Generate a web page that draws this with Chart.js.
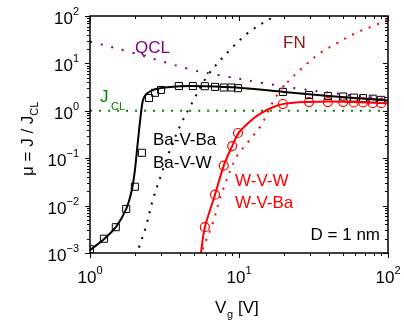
<!DOCTYPE html>
<html>
<head>
<meta charset="utf-8">
<script src="https://cdn.jsdelivr.net/npm/chart.js@4.4.0/dist/chart.umd.min.js"></script>
<style>
  html, body { margin: 0; padding: 0; background: #fff; }
  #wrap { width: 404px; height: 325px; position: relative; }
</style>
</head>
<body>
<div id="wrap"><canvas id="graph"></canvas></div>
<script>
// values: [Vg, mu]
const baVBaPts = [[1,1.2e-3],[1.24,2e-3],[1.49,3.5e-3],[1.75,8.5e-3],[2.0,0.025],[2.23,0.13],[2.49,1.86],[2.73,2.4],[3.0,2.75],[3.95,3.33],[4.9,3.33],[5.9,3.3],[6.9,3.2],[7.9,3.1],[8.9,3.1],[9.85,3.0],[19.7,2.5],[29.5,2.15],[39.5,2.05],[50,2.0],[59,1.9],[68,1.85],[79,1.8],[90,1.7]];
const baVBaFit = [[1,1.15e-3],[1.25,2e-3],[1.5,3.6e-3],[1.75,8.5e-3],[1.9,0.02],[2.0,0.055],[2.1,0.24],[2.2,0.9],[2.27,1.7],[2.4,2.3],[2.7,2.8],[3.2,3.1],[4,3.3],[6,3.28],[10,3.05],[20,2.5],[40,2.05],[100,1.65]];
const baVW = [[2.13,1.3e-3],[2.38,3.7e-3],[2.65,0.0137],[3.04,0.05],[3.34,0.118],[4.0,0.46],[4.84,1.46],[6.2,5.7],[8.8,20],[11.5,44],[15.2,78],[17.5,100]];
const wVWPts = [[5.9,3.5e-3],[6.9,0.017],[7.9,0.07],[9.0,0.18],[9.85,0.34],[19.7,1.39],[29.5,1.53],[39.5,1.53],[50,1.53],[59,1.5],[68,1.5],[79,1.45],[90,1.45]];
const wVWFit = [[5.55,1e-3],[5.9,3.5e-3],[6.9,0.017],[7.9,0.07],[9,0.18],[10,0.35],[12,0.62],[14,0.88],[17,1.2],[20,1.4],[25,1.52],[35,1.56],[50,1.55],[100,1.45]];
const wVBa = [[5.7,1.2e-3],[6.7,4.5e-3],[7.6,0.017],[9.6,0.105],[11.5,0.22],[14.1,0.5],[16.6,1.39],[19.8,3.2],[26.5,7.9],[35,16.6],[46,27],[61,44],[80,62],[100,85]];
const qcl = [[1,29],[1.86,17.4],[4.84,7.3],[7.2,5.7],[14.5,3.85],[25.7,2.9],[55,2.15],[100,1.75]];
const jcl = [[1,1],[100,1]];
const xDecades = [0, 1, 2];
const yDecades = [-3, -2, -1, 0, 1, 2];

const FONT = 'Arial, "Liberation Sans", sans-serif';
const toXY = a => a.map(p => ({x: p[0], y: p[1]}));

function dotted(data, color, gap) {
  return { data: toXY(data), borderColor: color, borderWidth: 2, borderDash: [2, gap],
    pointRadius: 0, fill: false, tension: 0.35 };
}

const axesPlugin = {
  id: 'axesPlugin',
  afterDraw(chart) {
    const ctx = chart.ctx, a = chart.chartArea;
    const xs = chart.scales.x, ys = chart.scales.y;
    ctx.save();
    ctx.strokeStyle = '#000';
    ctx.lineWidth = 1.5;
    ctx.strokeRect(a.left, a.top, a.right - a.left, a.bottom - a.top);
    ctx.lineWidth = 1;
    ctx.beginPath();
    // x ticks
    for (let d = 0; d < 2; d++) {
      for (let m = 1; m <= 10; m++) {
        const px = Math.round(xs.getPixelForValue(m * Math.pow(10, d))) + 0.5;
        const len = (m === 1 || m === 10) ? 5 : 3;
        ctx.moveTo(px, a.bottom); ctx.lineTo(px, a.bottom + len);
        ctx.moveTo(px, a.top); ctx.lineTo(px, a.top + len);
      }
    }
    // y ticks
    for (let d = -3; d < 2; d++) {
      for (let m = 1; m <= 10; m++) {
        const py = Math.round(ys.getPixelForValue(m * Math.pow(10, d))) + 0.5;
        const len = (m === 1 || m === 10) ? 5 : 3;
        ctx.moveTo(a.left, py); ctx.lineTo(a.left - len, py);
        ctx.moveTo(a.right, py); ctx.lineTo(a.right - len, py);
      }
    }
    ctx.stroke();

    ctx.fillStyle = '#000';
    ctx.textBaseline = 'alphabetic';
    // y tick labels: 10^n, right aligned
    yDecades.forEach(n => {
      const py = ys.getPixelForValue(Math.pow(10, n));
      ctx.font = '11px ' + FONT;
      const sup = String(n).replace('-', '\u2212');
      const sw = ctx.measureText(sup).width;
      ctx.textAlign = 'left';
      const right = 79;
      ctx.fillText(sup, right - sw, py - 1);
      ctx.font = '17px ' + FONT;
      const bw = ctx.measureText('10').width;
      ctx.fillText('10', right - sw - bw, py + 8);
    });
    // x tick labels
    xDecades.forEach(n => {
      const px = xs.getPixelForValue(Math.pow(10, n));
      ctx.font = '17px ' + FONT;
      const bw = ctx.measureText('10').width;
      ctx.font = '11px ' + FONT;
      const sw = ctx.measureText(String(n)).width;
      const left = px - (bw + sw) / 2;
      ctx.textAlign = 'left';
      ctx.fillText(String(n), left + bw, 274);
      ctx.font = '17px ' + FONT;
      ctx.fillText('10', left, 283);
    });

    // x title: V_g [V]
    ctx.font = '17px ' + FONT;
    ctx.fillText('V', 215, 313);
    ctx.font = '11px ' + FONT;
    ctx.fillText('g', 227, 318);
    ctx.font = '17px ' + FONT;
    ctx.fillText('[V]', 238, 313);

    // y title: mu = J / J_CL (rotated)
    ctx.save();
    ctx.translate(33, 176);
    ctx.rotate(-Math.PI / 2);
    ctx.font = '17px ' + FONT;
    const main = '\u03bc = J / J';
    ctx.fillText(main, 0, 0);
    const mw = ctx.measureText(main).width;
    ctx.font = '11px ' + FONT;
    ctx.fillText('CL', mw, 5);
    ctx.restore();

    // annotations
    ctx.font = '17px ' + FONT;
    ctx.fillStyle = '#800080';
    ctx.fillText('QCL', 135, 53);
    ctx.fillStyle = '#8b1a1a';
    ctx.fillText('FN', 283, 48);
    ctx.fillStyle = '#008000';
    ctx.fillText('J', 100, 102);
    ctx.font = '11px ' + FONT;
    ctx.fillText('CL', 111, 110);
    ctx.font = '17px ' + FONT;
    ctx.fillStyle = '#000';
    ctx.fillText('Ba-V-Ba', 153, 145);
    ctx.fillText('Ba-V-W', 153, 168);
    ctx.fillStyle = '#ff0000';
    ctx.fillText('W-V-W', 235, 186);
    ctx.fillText('W-V-Ba', 235, 208);
    ctx.fillStyle = '#000';
    ctx.textAlign = 'right';
    ctx.fillText('D = 1 nm', 380, 240);
    ctx.restore();
  }
};

new Chart(document.getElementById('graph'), {
  type: 'line',
  data: {
    datasets: [
      dotted(jcl, '#008000', 7),
      dotted(qcl, '#800080', 9),
      dotted(baVW, '#000000', 7),
      dotted(wVBa, '#ff0000', 7),
      { data: toXY(baVBaFit), borderColor: '#000', borderWidth: 2, pointRadius: 0, tension: 0.3, fill: false },
      { data: toXY(wVWFit), borderColor: '#ff0000', borderWidth: 2, pointRadius: 0, tension: 0.3, fill: false },
      { data: toXY(baVBaPts), showLine: false, pointStyle: 'rect', pointRadius: 5,
        pointBackgroundColor: 'rgba(0,0,0,0)', pointBorderColor: '#000', pointBorderWidth: 1 },
      { data: toXY(wVWPts), showLine: false, pointStyle: 'circle', pointRadius: 4.5,
        pointBackgroundColor: 'rgba(0,0,0,0)', pointBorderColor: '#ff0000', pointBorderWidth: 1.2 }
    ]
  },
  options: {
    responsive: true,
    maintainAspectRatio: false,
    animation: false,
    layout: { padding: { left: 90, right: 16, top: 16, bottom: 72 } },
    plugins: { legend: { display: false }, tooltip: { enabled: false } },
    scales: {
      x: { type: 'logarithmic', min: 1, max: 100, display: false },
      y: { type: 'logarithmic', min: 1e-3, max: 100, display: false }
    }
  },
  plugins: [axesPlugin]
});
</script>
</body>
</html>
